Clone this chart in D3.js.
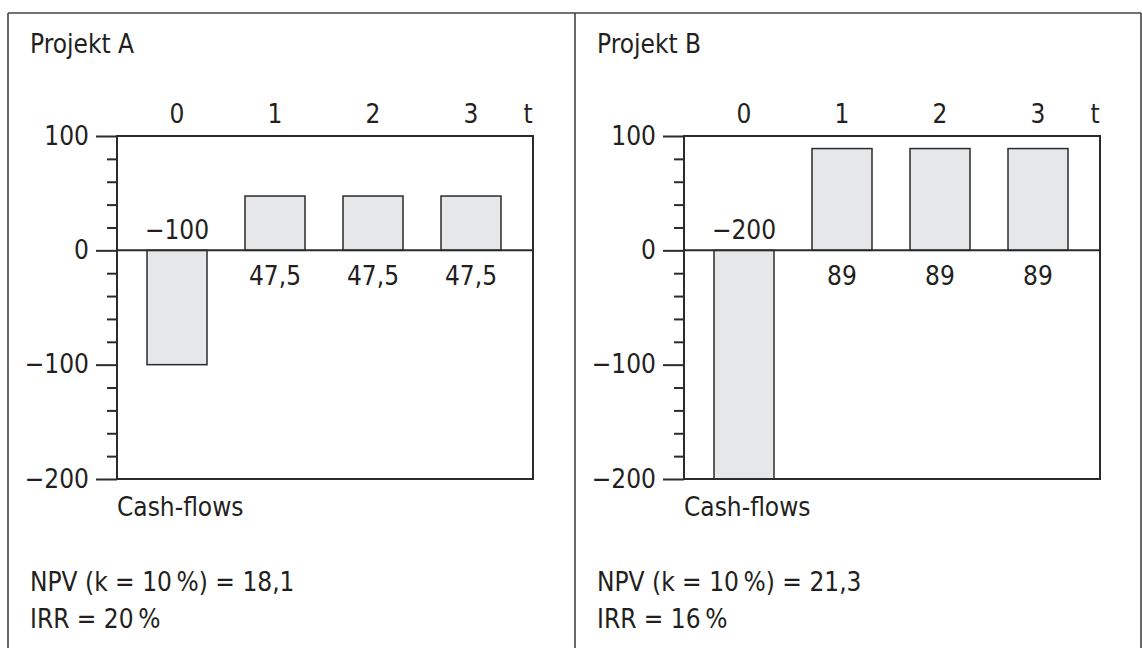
<!DOCTYPE html>
<html>
<head>
<meta charset="utf-8">
<script src="https://cdn.jsdelivr.net/npm/d3@7"></script>
<style>
  html, body { margin: 0; padding: 0; background: #fff; }
  svg { display: block; }
  text { font-family: "DejaVu Sans Condensed", "DejaVu Sans", sans-serif; font-stretch: condensed; font-size: 26px; fill: #231f20; }
</style>
</head>
<body>
<svg id="chart" width="1142" height="648"></svg>
<script>
// ---- data ----
const projects = ["Projekt A", "Projekt B"];
const periods = ["0", "1", "2", "3"];
const cashflowsA = [-100, 47.5, 47.5, 47.5];
const cashflowsB = [-200, 89, 89, 89];
const majorTicks = [100, 0, -100, -200];
const minorTicks = [80, 60, 40, 20, -20, -40, -60, -80, -120, -140, -160, -180];
const npvValues = [18.1, 21.3];
const irrValues = [20, 16];
const discountRate = 10;
const timeLabel = "t";
const axisTitle = "Cash-flows";

// ---- setup ----
const de = d3.formatLocale({ decimal: ",", thousands: ".", grouping: [3], currency: ["", " €"] });
const fmt = de.format("~g");
const ink = "#2b2b2b";
const fontFamily = '"DejaVu Sans Condensed", "DejaVu Sans", sans-serif';
const svg = d3.select("#chart");

// outer frame
const frame = svg.append("g").attr("fill", "none").attr("stroke", "#444").attr("stroke-width", 1.6);
frame.append("line").attr("x1", 8).attr("x2", 1141).attr("y1", 13).attr("y2", 13);
frame.append("line").attr("x1", 8).attr("x2", 8).attr("y1", 13).attr("y2", 660);
frame.append("line").attr("x1", 1141).attr("x2", 1141).attr("y1", 13).attr("y2", 660);
frame.append("line").attr("x1", 575).attr("x2", 575).attr("y1", 13).attr("y2", 660);

const panelW = 567;
const plot = { left: 109, top: 136, width: 416, height: 343 };

const y = d3.scaleLinear().domain([-200, 100]).range([plot.top + plot.height, plot.top]);
const x = d3.scaleBand().domain(periods).range([30, 30 + 98 * 4 - 38]).paddingInner(38 / 98).paddingOuter(0);

const series = [cashflowsA, cashflowsB];

series.forEach((vals, i) => {
  const g = svg.append("g").attr("transform", `translate(${8 + i * panelW},0)`);

  // title
  g.append("text").attr("x", 22).attr("y", 53).text(projects[i]);

  const p = g.append("g").attr("transform", `translate(${plot.left},0)`);

  // bars
  p.selectAll("rect.bar").data(vals).join("rect")
    .attr("class", "bar")
    .attr("x", (d, j) => x(periods[j]))
    .attr("width", x.bandwidth())
    .attr("y", d => y(Math.max(0, d)))
    .attr("height", d => Math.abs(y(d) - y(0)))
    .attr("fill", "#e6e7e8")
    .attr("stroke", ink)
    .attr("stroke-width", 1.5);

  // plot frame
  p.append("rect")
    .attr("x", 0).attr("y", plot.top)
    .attr("width", plot.width).attr("height", plot.height)
    .attr("fill", "none").attr("stroke", ink).attr("stroke-width", 2);

  // zero line
  p.append("line")
    .attr("x1", 0).attr("x2", plot.width)
    .attr("y1", y(0)).attr("y2", y(0))
    .attr("stroke", ink).attr("stroke-width", 2);

  // minor ticks
  const minorAxis = d3.axisLeft(y).tickValues(minorTicks).tickSize(10).tickFormat("");
  const ma = p.append("g").call(minorAxis);
  ma.select(".domain").remove();
  ma.selectAll("line").attr("stroke", ink).attr("stroke-width", 2);

  // major ticks
  const majorAxis = d3.axisLeft(y).tickValues(majorTicks).tickSize(21).tickPadding(7).tickFormat(fmt);
  const Ma = p.append("g").call(majorAxis);
  Ma.select(".domain").remove();
  Ma.attr("font-family", null).attr("font-size", null);
  Ma.selectAll("line").attr("stroke", ink).attr("stroke-width", 2);
  Ma.selectAll("text")
    .style("font-family", fontFamily)
    .style("font-size", "26px").attr("fill", "#231f20");

  // period labels on top
  p.selectAll("text.period").data(periods).join("text")
    .attr("class", "period")
    .attr("x", d => x(d) + x.bandwidth() / 2)
    .attr("y", 123)
    .attr("text-anchor", "middle")
    .text(d => d);
  p.append("text").attr("x", plot.width - 5).attr("y", 123).attr("text-anchor", "middle").text(timeLabel);

  // value labels
  p.selectAll("text.val").data(vals).join("text")
    .attr("class", "val")
    .attr("x", (d, j) => x(periods[j]) + x.bandwidth() / 2)
    .attr("y", d => d < 0 ? y(0) - 11 : y(0) + 35)
    .attr("text-anchor", "middle")
    .text(d => fmt(d));

  // axis title
  p.append("text").attr("x", 0).attr("y", 516).text(axisTitle);

  // stats
  g.append("text").attr("x", 22).attr("y", 591)
    .text(`NPV (k = ${discountRate}\u2009%) = ${de.format(",.1f")(npvValues[i])}`);
  g.append("text").attr("x", 22).attr("y", 628)
    .text(`IRR = ${irrValues[i]}\u2009%`);
});
</script>
</body>
</html>
